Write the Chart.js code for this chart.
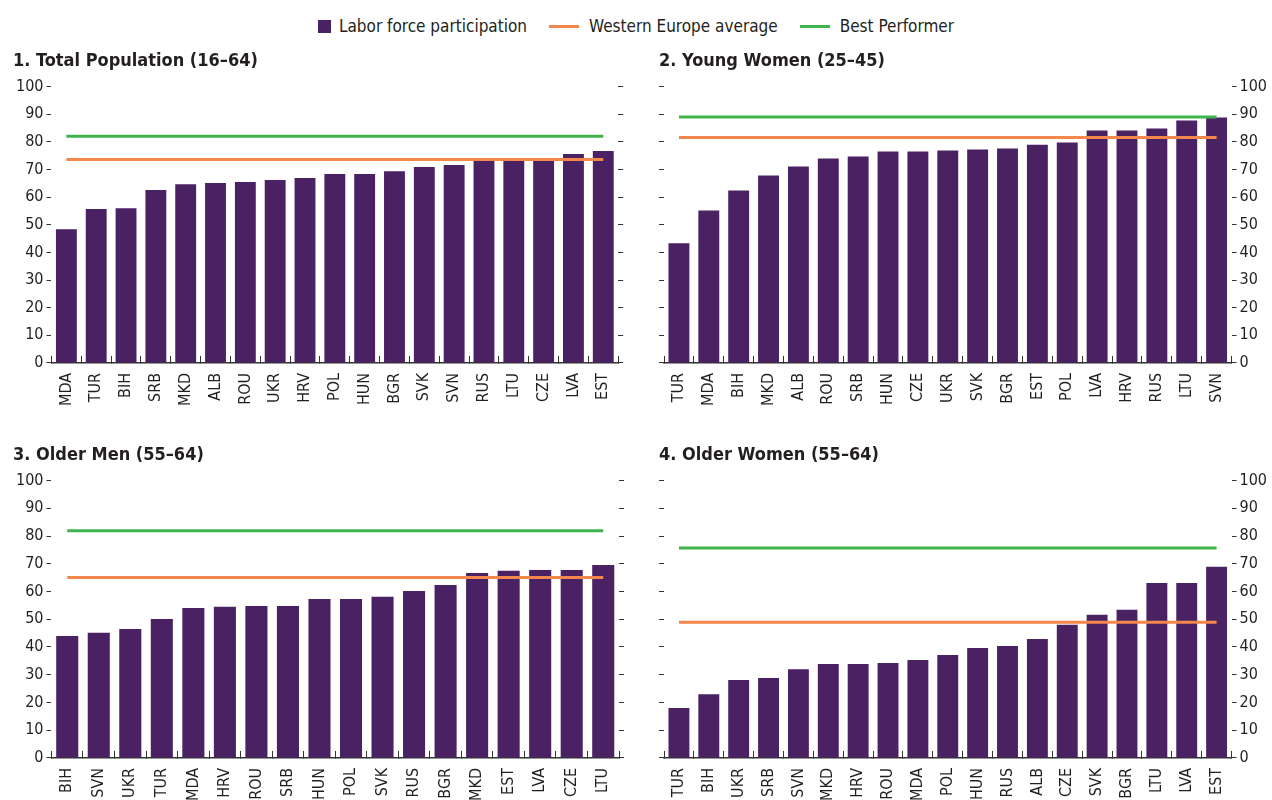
<!DOCTYPE html>
<html>
<head>
<meta charset="utf-8">
<script src="https://cdn.jsdelivr.net/npm/chart.js@4.4.1/dist/chart.umd.min.js"></script>
<style>
  html, body { margin: 0; padding: 0; background: #fff; width: 1272px; height: 800px; overflow: hidden; }
  .panel { position: absolute; }
  #legend { position: absolute; top: 16px; left: 0; width: 1272px; display: flex; justify-content: center; align-items: center;
            font-family: "Liberation Sans Narrow", "Arial Narrow", "DejaVu Sans Condensed", sans-serif; font-size: 17px; color: #231f20; }
  .item { display: flex; align-items: center; margin: 0 11px; }
  .sq { width: 13px; height: 13px; background: #4a2163; margin-right: 8px; }
  .ln { width: 30px; height: 3px; margin-right: 10px; }
</style>
</head>
<body>
<div id="legend">
  <div class="item"><span class="sq"></span><span>Labor force participation</span></div>
  <div class="item"><span class="ln" style="background:#f4874b"></span><span>Western Europe average</span></div>
  <div class="item"><span class="ln" style="background:#41b34b"></span><span>Best Performer</span></div>
</div>
<div class="panel" id="p1" style="left:0px;top:48px;width:640px;height:375px;"><canvas id="c1"></canvas></div>
<div class="panel" id="p2" style="left:658px;top:48px;width:614px;height:375px;"><canvas id="c2"></canvas></div>
<div class="panel" id="p3" style="left:0px;top:442px;width:640px;height:376px;"><canvas id="c3"></canvas></div>
<div class="panel" id="p4" style="left:658px;top:442px;width:614px;height:376px;"><canvas id="c4"></canvas></div>
<script>
// ---- Data ----
const seriesNames = ["Labor force participation", "Western Europe average", "Best Performer"];

const totalTitle = "1. Total Population (16–64)";
const totalCountries = ["MDA","TUR","BIH","SRB","MKD","ALB","ROU","UKR","HRV","POL","HUN","BGR","SVK","SVN","RUS","LTU","CZE","LVA","EST"];
const totalValues = [48.4,55.7,56.0,62.6,64.7,65.1,65.5,66.2,66.9,68.4,68.4,69.4,70.9,71.6,73.4,74.2,74.2,75.6,76.7];
const totalWEAvg = 73.6;
const totalBest = 82.0;

const youngWomenTitle = "2. Young Women (25–45)";
const youngWomenCountries = ["TUR","MDA","BIH","MKD","ALB","ROU","SRB","HUN","CZE","UKR","SVK","BGR","EST","POL","LVA","HRV","RUS","LTU","SVN"];
const youngWomenValues = [43.3,55.2,62.4,67.8,71.1,74.0,74.7,76.5,76.5,76.9,77.2,77.6,79.0,79.8,84.1,84.1,84.8,87.7,88.8];
const youngWomenWEAvg = 81.6;
const youngWomenBest = 89.0;

const olderMenTitle = "3. Older Men (55–64)";
const olderMenCountries = ["BIH","SVN","UKR","TUR","MDA","HRV","ROU","SRB","HUN","POL","SVK","RUS","BGR","MKD","EST","LVA","CZE","LTU"];
const olderMenValues = [44.0,45.1,46.5,50.1,54.1,54.5,54.8,54.8,57.3,57.3,58.1,60.2,62.4,66.7,67.5,67.8,67.8,69.6];
const olderMenWEAvg = 65.1;
const olderMenBest = 81.9;

const olderWomenTitle = "4. Older Women (55–64)";
const olderWomenCountries = ["TUR","BIH","UKR","SRB","SVN","MKD","HRV","ROU","MDA","POL","HUN","RUS","ALB","CZE","SVK","BGR","LTU","LVA","EST"];
const olderWomenValues = [18.0,23.0,28.1,28.8,32.0,33.9,33.9,34.2,35.3,37.1,39.6,40.4,42.9,48.0,51.6,53.4,63.1,63.1,68.9];
const olderWomenWEAvg = 48.9;
const olderWomenBest = 75.7;

const yMin = 0, yMax = 100, yStep = 10;

// ---- Styles ----
const FONT = '"Liberation Sans Narrow", "Arial Narrow", "DejaVu Sans Condensed", sans-serif';
const PURPLE = "#4a2163", ORANGE = "#f4874b", GREEN = "#41b34b", INK = "#231f20", AXIS = "#333333";

function makeChart(id, title, cats, values, avg, best, labelSide, pad) {
  const otherSide = labelSide === "left" ? "right" : "left";
  const first = cats[0], last = cats[cats.length - 1];
  return new Chart(document.getElementById(id), {
    type: "bar",
    data: {
      labels: cats,
      datasets: [
        { type: "line", label: seriesNames[2], data: [{x: first, y: best}, {x: last, y: best}],
          borderColor: GREEN, borderWidth: 3, pointRadius: 0, order: 0, yAxisID: "y" },
        { type: "line", label: seriesNames[1], data: [{x: first, y: avg}, {x: last, y: avg}],
          borderColor: ORANGE, borderWidth: 3, pointRadius: 0, order: 0, yAxisID: "y" },
        { type: "bar", label: seriesNames[0], data: values, backgroundColor: PURPLE,
          barPercentage: 0.7, categoryPercentage: 1, order: 1, yAxisID: "y" }
      ]
    },
    options: {
      responsive: true, maintainAspectRatio: false, animation: false,
      layout: { padding: pad },
      plugins: {
        legend: { display: false }, tooltip: { enabled: false },
        title: { display: true, text: title, align: "start", color: INK,
                 font: { family: FONT, size: 18, weight: "bold" }, padding: { top: 3, bottom: 14 } }
      },
      scales: {
        x: {
          grid: { display: true, offset: true, drawOnChartArea: false, drawTicks: true, tickLength: -7, color: AXIS, lineWidth: 1 },
          border: { display: true, color: AXIS, width: 1.5 },
          ticks: { autoSkip: false, minRotation: 90, maxRotation: 90, padding: 17, color: INK, font: { family: FONT, size: 16 } }
        },
        y: {
          position: labelSide, min: yMin, max: yMax,
          ticks: { stepSize: yStep, padding: 3, color: INK, font: { family: FONT, size: 16 } },
          grid: { drawOnChartArea: false, drawTicks: true, tickLength: 5, color: AXIS },
          border: { display: false }
        },
        y2: {
          position: otherSide, min: yMin, max: yMax,
          ticks: { stepSize: yStep, display: false },
          grid: { drawOnChartArea: false, drawTicks: true, tickLength: 5, color: AXIS },
          border: { display: false }
        }
      }
    }
  });
}

makeChart("c1", totalTitle, totalCountries, totalValues, totalWEAvg, totalBest, "left", {left: 13, right: 15, top: 0, bottom: 0});
makeChart("c2", youngWomenTitle, youngWomenCountries, youngWomenValues, youngWomenWEAvg, youngWomenBest, "right", {left: 1, right: 2, top: 0, bottom: 0});
makeChart("c3", olderMenTitle, olderMenCountries, olderMenValues, olderMenWEAvg, olderMenBest, "left", {left: 13, right: 15, top: 0, bottom: 0});
makeChart("c4", olderWomenTitle, olderWomenCountries, olderWomenValues, olderWomenWEAvg, olderWomenBest, "right", {left: 1, right: 2, top: 0, bottom: 0});
</script>
</body>
</html>
